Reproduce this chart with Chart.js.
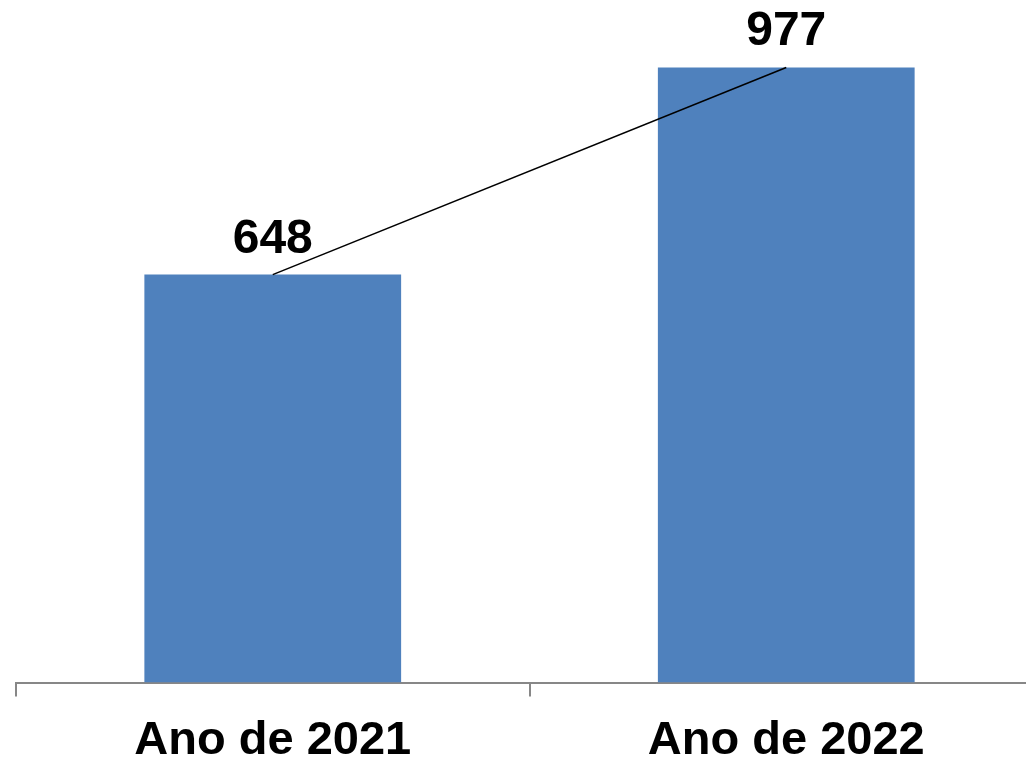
<!DOCTYPE html>
<html>
<head>
<meta charset="utf-8">
<script src="https://cdn.jsdelivr.net/npm/chart.js@4/dist/chart.umd.min.js"></script>
<style>
html, body { margin: 0; padding: 0; overflow: hidden; background: #fff; }
canvas { display: block; }
</style>
</head>
<body>
<canvas id="c" width="1043" height="785"></canvas>
<script>
const categories = ["Ano de 2021", "Ano de 2022"];
const values = [648, 977];
const valueLabels = ["648", "977"];

const labelPlugin = {
  id: 'valueLabels',
  afterDatasetsDraw(chart) {
    const ctx = chart.ctx;
    const meta = chart.getDatasetMeta(1);
    ctx.save();
    ctx.font = 'bold 48px "Liberation Sans", Arial, sans-serif';
    ctx.fillStyle = '#000';
    ctx.textAlign = 'center';
    ctx.textBaseline = 'alphabetic';
    meta.data.forEach((bar, i) => {
      ctx.fillText(valueLabels[i], bar.x, bar.y - 22);
    });
    ctx.restore();
  }
};

new Chart(document.getElementById('c'), {
  data: {
    labels: categories,
    datasets: [
      {
        type: 'line',
        data: values,
        borderColor: '#000',
        borderWidth: 1.6,
        pointRadius: 0,
        fill: false,
        tension: 0,
        order: 0
      },
      {
        type: 'bar',
        data: values,
        backgroundColor: '#4F81BD',
        borderWidth: 0,
        barPercentage: 0.5,
        categoryPercentage: 1.0,
        order: 1
      }
    ]
  },
  options: {
    responsive: false,
    animation: false,
    layout: { padding: { top: 53, left: 16, right: 0, bottom: 0 } },
    plugins: { legend: { display: false }, tooltip: { enabled: false } },
    scales: {
      x: {
        offset: true,
        grid: {
          offset: true,
          drawOnChartArea: false,
          drawTicks: true,
          tickLength: 14,
          color: '#878787',
          lineWidth: 2
        },
        border: { display: true, color: '#878787', width: 2 },
        ticks: {
          color: '#000',
          padding: 16,
          font: { family: '"Liberation Sans", Arial, sans-serif', size: 47, weight: 'bold' },
          maxRotation: 0
        }
      },
      y: {
        display: false,
        min: 0,
        max: 1000
      }
    }
  },
  plugins: [labelPlugin]
});
</script>
</body>
</html>
